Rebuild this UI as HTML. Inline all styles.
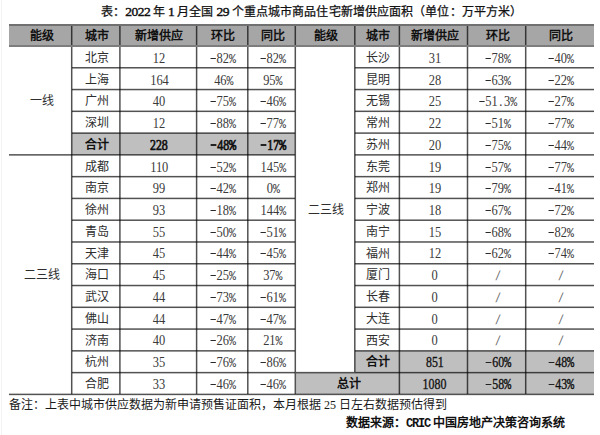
<!DOCTYPE html>
<html lang="zh-CN"><head><meta charset="utf-8">
<style>
html,body{margin:0;padding:0;background:#fff;}
body{width:600px;height:435px;position:relative;overflow:hidden;font-family:"Liberation Sans",sans-serif;color:#111;}
div,span{position:absolute;box-sizing:border-box;}
span{display:flex;align-items:center;justify-content:center;white-space:nowrap;font-size:12px;line-height:12px;}
.c{font-weight:normal;color:#2e2e2e;}
.h{font-weight:bold;color:#111;}
.hb{font-weight:bold;color:#111;}
.n{font-family:"Liberation Serif",serif;font-size:14px;color:#3a3a3a;}
.nn{font-weight:normal;display:inline-block;transform:scaleX(0.89);white-space:nowrap;}
.m{font-style:normal;font-family:"Liberation Mono",monospace;font-size:13px;letter-spacing:-1px;}
.nb{font-family:"Liberation Serif",serif;font-weight:normal;font-size:14.5px;color:#111;-webkit-text-stroke:0.35px #111;}
.nbb{font-weight:normal;display:inline-block;transform:scaleX(0.82);white-space:nowrap;}
.d{display:inline-block;width:6px;height:1px;background:#2a2a2a;vertical-align:4px;margin-right:0.8px;}
.nb .d{height:1px;width:6.5px;vertical-align:4px;margin-right:1.5px;background:#222;}
.sl{font-style:normal;font-family:"Liberation Sans",sans-serif;font-size:13px;color:#666;display:inline-block;transform:skewX(-12deg);}
.nbx{-webkit-text-stroke:0.7px #111;}
.nbx .d{height:2px;}
.dot{font-style:normal;display:inline-block;width:7px;text-align:center;}
.nb .m{font-size:14.5px;letter-spacing:-1.8px;}
.t{position:absolute;white-space:nowrap;font-size:12px;line-height:12px;}
.tn{position:static;display:inline;font-weight:normal;font-size:13.5px;letter-spacing:-0.5px;color:#111;-webkit-text-stroke:0.45px #111;font-family:"Liberation Serif",serif;}
</style></head><body>
<p class="t" style="margin:0;left:101px;top:5.5px;letter-spacing:0.1px;font-family:'Liberation Serif',serif;font-weight:normal;-webkit-text-stroke:0.25px #111;color:#111;">表：<span class="tn">2022 </span>年<span class="tn"> 1 </span>月全国<span class="tn"> 29 </span>个重点城市商品住宅新增供应面积（单位：万平方米）</p>
<div style="left:1px;top:0px;width:1px;height:435px;background:#f3f3f3;"></div>
<div style="left:9px;top:26px;width:585px;height:19px;background:#a6a6a6;"></div>
<div style="left:72px;top:133px;width:223px;height:22px;background:#bfbfbf;"></div>
<div style="left:355px;top:351px;width:239px;height:22px;background:#bfbfbf;"></div>
<div style="left:296px;top:373px;width:298px;height:21px;background:#bfbfbf;"></div>
<div style="left:9px;top:24px;width:585px;height:2px;background:#707070;"></div>
<div style="left:9px;top:45px;width:585px;height:1px;background:rgba(0,0,0,0.510);"></div>
<div style="left:9px;top:46px;width:585px;height:1px;background:rgba(0,0,0,0.510);"></div>
<div style="left:9px;top:393px;width:585px;height:1px;background:rgba(0,0,0,0.238);"></div>
<div style="left:9px;top:394px;width:585px;height:1px;background:rgba(0,0,0,0.680);"></div>
<div style="left:9px;top:395px;width:585px;height:1px;background:rgba(0,0,0,0.102);"></div>
<div style="left:70px;top:26px;width:1px;height:19px;background:rgba(0,0,0,0.034);"></div>
<div style="left:71px;top:26px;width:1px;height:19px;background:rgba(0,0,0,0.680);"></div>
<div style="left:72px;top:26px;width:1px;height:19px;background:rgba(0,0,0,0.306);"></div>
<div style="left:119px;top:26px;width:1px;height:19px;background:rgba(0,0,0,0.578);"></div>
<div style="left:120px;top:26px;width:1px;height:19px;background:rgba(0,0,0,0.442);"></div>
<div style="left:195px;top:26px;width:1px;height:19px;background:rgba(0,0,0,0.102);"></div>
<div style="left:196px;top:26px;width:1px;height:19px;background:rgba(0,0,0,0.680);"></div>
<div style="left:197px;top:26px;width:1px;height:19px;background:rgba(0,0,0,0.238);"></div>
<div style="left:247px;top:26px;width:1px;height:19px;background:rgba(0,0,0,0.646);"></div>
<div style="left:248px;top:26px;width:1px;height:19px;background:rgba(0,0,0,0.374);"></div>
<div style="left:294px;top:26px;width:1px;height:19px;background:rgba(0,0,0,0.306);"></div>
<div style="left:295px;top:26px;width:1px;height:19px;background:rgba(0,0,0,0.680);"></div>
<div style="left:296px;top:26px;width:1px;height:19px;background:rgba(0,0,0,0.034);"></div>
<div style="left:354px;top:26px;width:1px;height:19px;background:rgba(0,0,0,0.646);"></div>
<div style="left:355px;top:26px;width:1px;height:19px;background:rgba(0,0,0,0.374);"></div>
<div style="left:398px;top:26px;width:1px;height:19px;background:rgba(0,0,0,0.238);"></div>
<div style="left:399px;top:26px;width:1px;height:19px;background:rgba(0,0,0,0.680);"></div>
<div style="left:400px;top:26px;width:1px;height:19px;background:rgba(0,0,0,0.102);"></div>
<div style="left:466px;top:26px;width:1px;height:19px;background:rgba(0,0,0,0.170);"></div>
<div style="left:467px;top:26px;width:1px;height:19px;background:rgba(0,0,0,0.680);"></div>
<div style="left:468px;top:26px;width:1px;height:19px;background:rgba(0,0,0,0.170);"></div>
<div style="left:524px;top:26px;width:1px;height:19px;background:rgba(0,0,0,0.034);"></div>
<div style="left:525px;top:26px;width:1px;height:19px;background:rgba(0,0,0,0.680);"></div>
<div style="left:526px;top:26px;width:1px;height:19px;background:rgba(0,0,0,0.306);"></div>
<div style="left:70px;top:47px;width:1px;height:347px;background:rgba(0,0,0,0.034);"></div>
<div style="left:71px;top:47px;width:1px;height:347px;background:rgba(0,0,0,0.680);"></div>
<div style="left:72px;top:47px;width:1px;height:347px;background:rgba(0,0,0,0.306);"></div>
<div style="left:119px;top:47px;width:1px;height:347px;background:rgba(0,0,0,0.578);"></div>
<div style="left:120px;top:47px;width:1px;height:347px;background:rgba(0,0,0,0.442);"></div>
<div style="left:195px;top:47px;width:1px;height:347px;background:rgba(0,0,0,0.102);"></div>
<div style="left:196px;top:47px;width:1px;height:347px;background:rgba(0,0,0,0.680);"></div>
<div style="left:197px;top:47px;width:1px;height:347px;background:rgba(0,0,0,0.238);"></div>
<div style="left:247px;top:47px;width:1px;height:347px;background:rgba(0,0,0,0.646);"></div>
<div style="left:248px;top:47px;width:1px;height:347px;background:rgba(0,0,0,0.374);"></div>
<div style="left:294px;top:47px;width:1px;height:347px;background:rgba(0,0,0,0.306);"></div>
<div style="left:295px;top:47px;width:1px;height:347px;background:rgba(0,0,0,0.680);"></div>
<div style="left:296px;top:47px;width:1px;height:347px;background:rgba(0,0,0,0.034);"></div>
<div style="left:354px;top:47px;width:1px;height:325px;background:rgba(0,0,0,0.646);"></div>
<div style="left:355px;top:47px;width:1px;height:325px;background:rgba(0,0,0,0.374);"></div>
<div style="left:398px;top:47px;width:1px;height:347px;background:rgba(0,0,0,0.238);"></div>
<div style="left:399px;top:47px;width:1px;height:347px;background:rgba(0,0,0,0.680);"></div>
<div style="left:400px;top:47px;width:1px;height:347px;background:rgba(0,0,0,0.102);"></div>
<div style="left:466px;top:47px;width:1px;height:347px;background:rgba(0,0,0,0.170);"></div>
<div style="left:467px;top:47px;width:1px;height:347px;background:rgba(0,0,0,0.680);"></div>
<div style="left:468px;top:47px;width:1px;height:347px;background:rgba(0,0,0,0.170);"></div>
<div style="left:524px;top:47px;width:1px;height:347px;background:rgba(0,0,0,0.034);"></div>
<div style="left:525px;top:47px;width:1px;height:347px;background:rgba(0,0,0,0.680);"></div>
<div style="left:526px;top:47px;width:1px;height:347px;background:rgba(0,0,0,0.306);"></div>
<div style="left:72px;top:67px;width:223px;height:1px;background:rgba(0,0,0,0.663);"></div>
<div style="left:72px;top:68px;width:223px;height:1px;background:rgba(0,0,0,0.357);"></div>
<div style="left:72px;top:88px;width:223px;height:1px;background:rgba(0,0,0,0.136);"></div>
<div style="left:72px;top:89px;width:223px;height:1px;background:rgba(0,0,0,0.680);"></div>
<div style="left:72px;top:90px;width:223px;height:1px;background:rgba(0,0,0,0.204);"></div>
<div style="left:72px;top:110px;width:223px;height:1px;background:rgba(0,0,0,0.289);"></div>
<div style="left:72px;top:111px;width:223px;height:1px;background:rgba(0,0,0,0.680);"></div>
<div style="left:72px;top:112px;width:223px;height:1px;background:rgba(0,0,0,0.051);"></div>
<div style="left:72px;top:132px;width:223px;height:1px;background:rgba(0,0,0,0.442);"></div>
<div style="left:72px;top:133px;width:223px;height:1px;background:rgba(0,0,0,0.578);"></div>
<div style="left:9px;top:154px;width:286px;height:1px;background:rgba(0,0,0,0.595);"></div>
<div style="left:9px;top:155px;width:286px;height:1px;background:rgba(0,0,0,0.425);"></div>
<div style="left:72px;top:175px;width:223px;height:1px;background:rgba(0,0,0,0.068);"></div>
<div style="left:72px;top:176px;width:223px;height:1px;background:rgba(0,0,0,0.680);"></div>
<div style="left:72px;top:177px;width:223px;height:1px;background:rgba(0,0,0,0.272);"></div>
<div style="left:72px;top:197px;width:223px;height:1px;background:rgba(0,0,0,0.221);"></div>
<div style="left:72px;top:198px;width:223px;height:1px;background:rgba(0,0,0,0.680);"></div>
<div style="left:72px;top:199px;width:223px;height:1px;background:rgba(0,0,0,0.119);"></div>
<div style="left:72px;top:219px;width:223px;height:1px;background:rgba(0,0,0,0.374);"></div>
<div style="left:72px;top:220px;width:223px;height:1px;background:rgba(0,0,0,0.646);"></div>
<div style="left:72px;top:241px;width:223px;height:1px;background:rgba(0,0,0,0.527);"></div>
<div style="left:72px;top:242px;width:223px;height:1px;background:rgba(0,0,0,0.493);"></div>
<div style="left:72px;top:263px;width:223px;height:1px;background:rgba(0,0,0,0.680);"></div>
<div style="left:72px;top:264px;width:223px;height:1px;background:rgba(0,0,0,0.340);"></div>
<div style="left:72px;top:284px;width:223px;height:1px;background:rgba(0,0,0,0.153);"></div>
<div style="left:72px;top:285px;width:223px;height:1px;background:rgba(0,0,0,0.680);"></div>
<div style="left:72px;top:286px;width:223px;height:1px;background:rgba(0,0,0,0.187);"></div>
<div style="left:72px;top:306px;width:223px;height:1px;background:rgba(0,0,0,0.306);"></div>
<div style="left:72px;top:307px;width:223px;height:1px;background:rgba(0,0,0,0.680);"></div>
<div style="left:72px;top:308px;width:223px;height:1px;background:rgba(0,0,0,0.034);"></div>
<div style="left:72px;top:328px;width:223px;height:1px;background:rgba(0,0,0,0.459);"></div>
<div style="left:72px;top:329px;width:223px;height:1px;background:rgba(0,0,0,0.561);"></div>
<div style="left:72px;top:350px;width:223px;height:1px;background:rgba(0,0,0,0.612);"></div>
<div style="left:72px;top:351px;width:223px;height:1px;background:rgba(0,0,0,0.408);"></div>
<div style="left:72px;top:371px;width:223px;height:1px;background:rgba(0,0,0,0.085);"></div>
<div style="left:72px;top:372px;width:223px;height:1px;background:rgba(0,0,0,0.680);"></div>
<div style="left:72px;top:373px;width:223px;height:1px;background:rgba(0,0,0,0.255);"></div>
<div style="left:355px;top:67px;width:239px;height:1px;background:rgba(0,0,0,0.663);"></div>
<div style="left:355px;top:68px;width:239px;height:1px;background:rgba(0,0,0,0.357);"></div>
<div style="left:355px;top:88px;width:239px;height:1px;background:rgba(0,0,0,0.136);"></div>
<div style="left:355px;top:89px;width:239px;height:1px;background:rgba(0,0,0,0.680);"></div>
<div style="left:355px;top:90px;width:239px;height:1px;background:rgba(0,0,0,0.204);"></div>
<div style="left:355px;top:110px;width:239px;height:1px;background:rgba(0,0,0,0.289);"></div>
<div style="left:355px;top:111px;width:239px;height:1px;background:rgba(0,0,0,0.680);"></div>
<div style="left:355px;top:112px;width:239px;height:1px;background:rgba(0,0,0,0.051);"></div>
<div style="left:355px;top:132px;width:239px;height:1px;background:rgba(0,0,0,0.442);"></div>
<div style="left:355px;top:133px;width:239px;height:1px;background:rgba(0,0,0,0.578);"></div>
<div style="left:355px;top:154px;width:239px;height:1px;background:rgba(0,0,0,0.595);"></div>
<div style="left:355px;top:155px;width:239px;height:1px;background:rgba(0,0,0,0.425);"></div>
<div style="left:355px;top:175px;width:239px;height:1px;background:rgba(0,0,0,0.068);"></div>
<div style="left:355px;top:176px;width:239px;height:1px;background:rgba(0,0,0,0.680);"></div>
<div style="left:355px;top:177px;width:239px;height:1px;background:rgba(0,0,0,0.272);"></div>
<div style="left:355px;top:197px;width:239px;height:1px;background:rgba(0,0,0,0.221);"></div>
<div style="left:355px;top:198px;width:239px;height:1px;background:rgba(0,0,0,0.680);"></div>
<div style="left:355px;top:199px;width:239px;height:1px;background:rgba(0,0,0,0.119);"></div>
<div style="left:355px;top:219px;width:239px;height:1px;background:rgba(0,0,0,0.374);"></div>
<div style="left:355px;top:220px;width:239px;height:1px;background:rgba(0,0,0,0.646);"></div>
<div style="left:355px;top:241px;width:239px;height:1px;background:rgba(0,0,0,0.527);"></div>
<div style="left:355px;top:242px;width:239px;height:1px;background:rgba(0,0,0,0.493);"></div>
<div style="left:355px;top:263px;width:239px;height:1px;background:rgba(0,0,0,0.680);"></div>
<div style="left:355px;top:264px;width:239px;height:1px;background:rgba(0,0,0,0.340);"></div>
<div style="left:355px;top:284px;width:239px;height:1px;background:rgba(0,0,0,0.153);"></div>
<div style="left:355px;top:285px;width:239px;height:1px;background:rgba(0,0,0,0.680);"></div>
<div style="left:355px;top:286px;width:239px;height:1px;background:rgba(0,0,0,0.187);"></div>
<div style="left:355px;top:306px;width:239px;height:1px;background:rgba(0,0,0,0.306);"></div>
<div style="left:355px;top:307px;width:239px;height:1px;background:rgba(0,0,0,0.680);"></div>
<div style="left:355px;top:308px;width:239px;height:1px;background:rgba(0,0,0,0.034);"></div>
<div style="left:355px;top:328px;width:239px;height:1px;background:rgba(0,0,0,0.459);"></div>
<div style="left:355px;top:329px;width:239px;height:1px;background:rgba(0,0,0,0.561);"></div>
<div style="left:355px;top:350px;width:239px;height:1px;background:rgba(0,0,0,0.612);"></div>
<div style="left:355px;top:351px;width:239px;height:1px;background:rgba(0,0,0,0.408);"></div>
<div style="left:296px;top:371px;width:298px;height:1px;background:rgba(0,0,0,0.085);"></div>
<div style="left:296px;top:372px;width:298px;height:1px;background:rgba(0,0,0,0.680);"></div>
<div style="left:296px;top:373px;width:298px;height:1px;background:rgba(0,0,0,0.255);"></div>
<span class="h" style="left:10.5px;top:25px;width:62px;height:22px">能级</span>
<span class="h" style="left:72.5px;top:25px;width:48px;height:22px">城市</span>
<span class="h" style="left:120.5px;top:25px;width:77px;height:22px">新增供应</span>
<span class="h" style="left:197.5px;top:25px;width:51px;height:22px">环比</span>
<span class="h" style="left:248.5px;top:25px;width:48px;height:22px">同比</span>
<span class="h" style="left:296.5px;top:25px;width:59px;height:22px">能级</span>
<span class="h" style="left:355.5px;top:25px;width:45px;height:22px">城市</span>
<span class="h" style="left:400.5px;top:25px;width:68px;height:22px">新增供应</span>
<span class="h" style="left:468.5px;top:25px;width:58px;height:22px">环比</span>
<span class="h" style="left:526.5px;top:25px;width:69px;height:22px">同比</span>
<span class="c" style="left:72.5px;top:47px;width:48px;height:22px">北京</span>
<span class="n" style="left:120.5px;top:48px;width:77px;height:22px"><b class="nn">12</b></span>
<span class="n" style="left:197.5px;top:48px;width:51px;height:22px"><b class="nn"><i class="d"></i>82<i class="m">%</i></b></span>
<span class="n" style="left:248.5px;top:48px;width:48px;height:22px"><b class="nn"><i class="d"></i>82<i class="m">%</i></b></span>
<span class="c" style="left:72.5px;top:69px;width:48px;height:22px">上海</span>
<span class="n" style="left:120.5px;top:70px;width:77px;height:22px"><b class="nn">164</b></span>
<span class="n" style="left:197.5px;top:70px;width:51px;height:22px"><b class="nn">46<i class="m">%</i></b></span>
<span class="n" style="left:248.5px;top:70px;width:48px;height:22px"><b class="nn">95<i class="m">%</i></b></span>
<span class="c" style="left:72.5px;top:90px;width:48px;height:22px">广州</span>
<span class="n" style="left:120.5px;top:91px;width:77px;height:22px"><b class="nn">40</b></span>
<span class="n" style="left:197.5px;top:91px;width:51px;height:22px"><b class="nn"><i class="d"></i>75<i class="m">%</i></b></span>
<span class="n" style="left:248.5px;top:91px;width:48px;height:22px"><b class="nn"><i class="d"></i>46<i class="m">%</i></b></span>
<span class="c" style="left:72.5px;top:112px;width:48px;height:22px">深圳</span>
<span class="n" style="left:120.5px;top:113px;width:77px;height:22px"><b class="nn">12</b></span>
<span class="n" style="left:197.5px;top:113px;width:51px;height:22px"><b class="nn"><i class="d"></i>88<i class="m">%</i></b></span>
<span class="n" style="left:248.5px;top:113px;width:48px;height:22px"><b class="nn"><i class="d"></i>77<i class="m">%</i></b></span>
<span class="hb" style="left:72.5px;top:134px;width:48px;height:22px">合计</span>
<span class="nb nbx" style="left:120.5px;top:134px;width:77px;height:22px"><b class="nbb">228</b></span>
<span class="nb nbx" style="left:197.5px;top:134px;width:51px;height:22px"><b class="nbb"><i class="d"></i>48<i class="m">%</i></b></span>
<span class="nb nbx" style="left:248.5px;top:134px;width:48px;height:22px"><b class="nbb"><i class="d"></i>17<i class="m">%</i></b></span>
<span class="c" style="left:72.5px;top:156px;width:48px;height:22px">成都</span>
<span class="n" style="left:120.5px;top:157px;width:77px;height:22px"><b class="nn">110</b></span>
<span class="n" style="left:197.5px;top:157px;width:51px;height:22px"><b class="nn"><i class="d"></i>52<i class="m">%</i></b></span>
<span class="n" style="left:248.5px;top:157px;width:48px;height:22px"><b class="nn">145<i class="m">%</i></b></span>
<span class="c" style="left:72.5px;top:177px;width:48px;height:22px">南京</span>
<span class="n" style="left:120.5px;top:178px;width:77px;height:22px"><b class="nn">99</b></span>
<span class="n" style="left:197.5px;top:178px;width:51px;height:22px"><b class="nn"><i class="d"></i>42<i class="m">%</i></b></span>
<span class="n" style="left:248.5px;top:178px;width:48px;height:22px"><b class="nn">0<i class="m">%</i></b></span>
<span class="c" style="left:72.5px;top:199px;width:48px;height:22px">徐州</span>
<span class="n" style="left:120.5px;top:200px;width:77px;height:22px"><b class="nn">93</b></span>
<span class="n" style="left:197.5px;top:200px;width:51px;height:22px"><b class="nn"><i class="d"></i>18<i class="m">%</i></b></span>
<span class="n" style="left:248.5px;top:200px;width:48px;height:22px"><b class="nn">144<i class="m">%</i></b></span>
<span class="c" style="left:72.5px;top:221px;width:48px;height:22px">青岛</span>
<span class="n" style="left:120.5px;top:222px;width:77px;height:22px"><b class="nn">55</b></span>
<span class="n" style="left:197.5px;top:222px;width:51px;height:22px"><b class="nn"><i class="d"></i>50<i class="m">%</i></b></span>
<span class="n" style="left:248.5px;top:222px;width:48px;height:22px"><b class="nn"><i class="d"></i>51<i class="m">%</i></b></span>
<span class="c" style="left:72.5px;top:243px;width:48px;height:22px">天津</span>
<span class="n" style="left:120.5px;top:243px;width:77px;height:22px"><b class="nn">45</b></span>
<span class="n" style="left:197.5px;top:243px;width:51px;height:22px"><b class="nn"><i class="d"></i>44<i class="m">%</i></b></span>
<span class="n" style="left:248.5px;top:243px;width:48px;height:22px"><b class="nn"><i class="d"></i>45<i class="m">%</i></b></span>
<span class="c" style="left:72.5px;top:264px;width:48px;height:22px">海口</span>
<span class="n" style="left:120.5px;top:265px;width:77px;height:22px"><b class="nn">45</b></span>
<span class="n" style="left:197.5px;top:265px;width:51px;height:22px"><b class="nn"><i class="d"></i>25<i class="m">%</i></b></span>
<span class="n" style="left:248.5px;top:265px;width:48px;height:22px"><b class="nn">37<i class="m">%</i></b></span>
<span class="c" style="left:72.5px;top:286px;width:48px;height:22px">武汉</span>
<span class="n" style="left:120.5px;top:287px;width:77px;height:22px"><b class="nn">44</b></span>
<span class="n" style="left:197.5px;top:287px;width:51px;height:22px"><b class="nn"><i class="d"></i>73<i class="m">%</i></b></span>
<span class="n" style="left:248.5px;top:287px;width:48px;height:22px"><b class="nn"><i class="d"></i>61<i class="m">%</i></b></span>
<span class="c" style="left:72.5px;top:308px;width:48px;height:22px">佛山</span>
<span class="n" style="left:120.5px;top:309px;width:77px;height:22px"><b class="nn">44</b></span>
<span class="n" style="left:197.5px;top:309px;width:51px;height:22px"><b class="nn"><i class="d"></i>47<i class="m">%</i></b></span>
<span class="n" style="left:248.5px;top:309px;width:48px;height:22px"><b class="nn"><i class="d"></i>47<i class="m">%</i></b></span>
<span class="c" style="left:72.5px;top:330px;width:48px;height:22px">济南</span>
<span class="n" style="left:120.5px;top:330px;width:77px;height:22px"><b class="nn">40</b></span>
<span class="n" style="left:197.5px;top:330px;width:51px;height:22px"><b class="nn"><i class="d"></i>26<i class="m">%</i></b></span>
<span class="n" style="left:248.5px;top:330px;width:48px;height:22px"><b class="nn">21<i class="m">%</i></b></span>
<span class="c" style="left:72.5px;top:351px;width:48px;height:22px">杭州</span>
<span class="n" style="left:120.5px;top:352px;width:77px;height:22px"><b class="nn">35</b></span>
<span class="n" style="left:197.5px;top:352px;width:51px;height:22px"><b class="nn"><i class="d"></i>76<i class="m">%</i></b></span>
<span class="n" style="left:248.5px;top:352px;width:48px;height:22px"><b class="nn"><i class="d"></i>86<i class="m">%</i></b></span>
<span class="c" style="left:72.5px;top:373px;width:48px;height:22px">合肥</span>
<span class="n" style="left:120.5px;top:374px;width:77px;height:22px"><b class="nn">33</b></span>
<span class="n" style="left:197.5px;top:374px;width:51px;height:22px"><b class="nn"><i class="d"></i>46<i class="m">%</i></b></span>
<span class="n" style="left:248.5px;top:374px;width:48px;height:22px"><b class="nn"><i class="d"></i>46<i class="m">%</i></b></span>
<span class="c" style="left:355.5px;top:47px;width:45px;height:22px">长沙</span>
<span class="n" style="left:400.5px;top:48px;width:68px;height:22px"><b class="nn">31</b></span>
<span class="n" style="left:468.5px;top:48px;width:58px;height:22px"><b class="nn"><i class="d"></i>78<i class="m">%</i></b></span>
<span class="n" style="left:526.5px;top:48px;width:69px;height:22px"><b class="nn"><i class="d"></i>40<i class="m">%</i></b></span>
<span class="c" style="left:355.5px;top:69px;width:45px;height:22px">昆明</span>
<span class="n" style="left:400.5px;top:70px;width:68px;height:22px"><b class="nn">28</b></span>
<span class="n" style="left:468.5px;top:70px;width:58px;height:22px"><b class="nn"><i class="d"></i>63<i class="m">%</i></b></span>
<span class="n" style="left:526.5px;top:70px;width:69px;height:22px"><b class="nn"><i class="d"></i>22<i class="m">%</i></b></span>
<span class="c" style="left:355.5px;top:90px;width:45px;height:22px">无锡</span>
<span class="n" style="left:400.5px;top:91px;width:68px;height:22px"><b class="nn">25</b></span>
<span class="n" style="left:468.5px;top:91px;width:58px;height:22px"><b class="nn"><i class="d"></i>51<i class="dot">.</i>3<i class="m">%</i></b></span>
<span class="n" style="left:526.5px;top:91px;width:69px;height:22px"><b class="nn"><i class="d"></i>27<i class="m">%</i></b></span>
<span class="c" style="left:355.5px;top:112px;width:45px;height:22px">常州</span>
<span class="n" style="left:400.5px;top:113px;width:68px;height:22px"><b class="nn">22</b></span>
<span class="n" style="left:468.5px;top:113px;width:58px;height:22px"><b class="nn"><i class="d"></i>51<i class="m">%</i></b></span>
<span class="n" style="left:526.5px;top:113px;width:69px;height:22px"><b class="nn"><i class="d"></i>77<i class="m">%</i></b></span>
<span class="c" style="left:355.5px;top:134px;width:45px;height:22px">苏州</span>
<span class="n" style="left:400.5px;top:135px;width:68px;height:22px"><b class="nn">20</b></span>
<span class="n" style="left:468.5px;top:135px;width:58px;height:22px"><b class="nn"><i class="d"></i>75<i class="m">%</i></b></span>
<span class="n" style="left:526.5px;top:135px;width:69px;height:22px"><b class="nn"><i class="d"></i>44<i class="m">%</i></b></span>
<span class="c" style="left:355.5px;top:156px;width:45px;height:22px">东莞</span>
<span class="n" style="left:400.5px;top:157px;width:68px;height:22px"><b class="nn">19</b></span>
<span class="n" style="left:468.5px;top:157px;width:58px;height:22px"><b class="nn"><i class="d"></i>57<i class="m">%</i></b></span>
<span class="n" style="left:526.5px;top:157px;width:69px;height:22px"><b class="nn"><i class="d"></i>77<i class="m">%</i></b></span>
<span class="c" style="left:355.5px;top:177px;width:45px;height:22px">郑州</span>
<span class="n" style="left:400.5px;top:178px;width:68px;height:22px"><b class="nn">19</b></span>
<span class="n" style="left:468.5px;top:178px;width:58px;height:22px"><b class="nn"><i class="d"></i>79<i class="m">%</i></b></span>
<span class="n" style="left:526.5px;top:178px;width:69px;height:22px"><b class="nn"><i class="d"></i>41<i class="m">%</i></b></span>
<span class="c" style="left:355.5px;top:199px;width:45px;height:22px">宁波</span>
<span class="n" style="left:400.5px;top:200px;width:68px;height:22px"><b class="nn">18</b></span>
<span class="n" style="left:468.5px;top:200px;width:58px;height:22px"><b class="nn"><i class="d"></i>67<i class="m">%</i></b></span>
<span class="n" style="left:526.5px;top:200px;width:69px;height:22px"><b class="nn"><i class="d"></i>72<i class="m">%</i></b></span>
<span class="c" style="left:355.5px;top:221px;width:45px;height:22px">南宁</span>
<span class="n" style="left:400.5px;top:222px;width:68px;height:22px"><b class="nn">15</b></span>
<span class="n" style="left:468.5px;top:222px;width:58px;height:22px"><b class="nn"><i class="d"></i>68<i class="m">%</i></b></span>
<span class="n" style="left:526.5px;top:222px;width:69px;height:22px"><b class="nn"><i class="d"></i>82<i class="m">%</i></b></span>
<span class="c" style="left:355.5px;top:243px;width:45px;height:22px">福州</span>
<span class="n" style="left:400.5px;top:243px;width:68px;height:22px"><b class="nn">12</b></span>
<span class="n" style="left:468.5px;top:243px;width:58px;height:22px"><b class="nn"><i class="d"></i>62<i class="m">%</i></b></span>
<span class="n" style="left:526.5px;top:243px;width:69px;height:22px"><b class="nn"><i class="d"></i>74<i class="m">%</i></b></span>
<span class="c" style="left:355.5px;top:264px;width:45px;height:22px">厦门</span>
<span class="n" style="left:400.5px;top:265px;width:68px;height:22px"><b class="nn">0</b></span>
<span class="n" style="left:468.5px;top:265px;width:58px;height:22px"><b class="nn"><i class="sl">/</i></b></span>
<span class="n" style="left:526.5px;top:265px;width:69px;height:22px"><b class="nn"><i class="sl">/</i></b></span>
<span class="c" style="left:355.5px;top:286px;width:45px;height:22px">长春</span>
<span class="n" style="left:400.5px;top:287px;width:68px;height:22px"><b class="nn">0</b></span>
<span class="n" style="left:468.5px;top:287px;width:58px;height:22px"><b class="nn"><i class="sl">/</i></b></span>
<span class="n" style="left:526.5px;top:287px;width:69px;height:22px"><b class="nn"><i class="sl">/</i></b></span>
<span class="c" style="left:355.5px;top:308px;width:45px;height:22px">大连</span>
<span class="n" style="left:400.5px;top:309px;width:68px;height:22px"><b class="nn">0</b></span>
<span class="n" style="left:468.5px;top:309px;width:58px;height:22px"><b class="nn"><i class="sl">/</i></b></span>
<span class="n" style="left:526.5px;top:309px;width:69px;height:22px"><b class="nn"><i class="sl">/</i></b></span>
<span class="c" style="left:355.5px;top:330px;width:45px;height:22px">西安</span>
<span class="n" style="left:400.5px;top:330px;width:68px;height:22px"><b class="nn">0</b></span>
<span class="n" style="left:468.5px;top:330px;width:58px;height:22px"><b class="nn"><i class="sl">/</i></b></span>
<span class="n" style="left:526.5px;top:330px;width:69px;height:22px"><b class="nn"><i class="sl">/</i></b></span>
<span class="hb" style="left:355.5px;top:351px;width:45px;height:22px">合计</span>
<span class="nb" style="left:400.5px;top:351px;width:68px;height:22px"><b class="nbb">851</b></span>
<span class="nb" style="left:468.5px;top:351px;width:58px;height:22px"><b class="nbb"><i class="d"></i>60<i class="m">%</i></b></span>
<span class="nb" style="left:526.5px;top:351px;width:69px;height:22px"><b class="nbb"><i class="d"></i>48<i class="m">%</i></b></span>
<span class="hb" style="left:296.5px;top:373px;width:104px;height:22px">总计</span>
<span class="nb" style="left:400.5px;top:373px;width:68px;height:22px"><b class="nbb">1080</b></span>
<span class="nb" style="left:468.5px;top:373px;width:58px;height:22px"><b class="nbb"><i class="d"></i>58<i class="m">%</i></b></span>
<span class="nb" style="left:526.5px;top:373px;width:69px;height:22px"><b class="nbb"><i class="d"></i>43<i class="m">%</i></b></span>
<span class="c" style="left:10.5px;top:47.00px;width:62px;height:108.88px">一线</span>
<span class="c" style="left:10.5px;top:154.88px;width:62px;height:239.92px">二三线</span>
<span class="c" style="left:296.5px;top:47.00px;width:59px;height:326.62px">二三线</span>
<p class="t" style="margin:0;left:9px;top:398.5px;color:#1a1a1a;">备注：上表中城市供应数据为新申请预售证面积，本月根据<span style="position:static;display:inline;font-family:'Liberation Serif',serif;"> 25 </span>日左右数据预估得到</p>
<p class="t" style="margin:0;left:346px;top:417px;font-weight:bold;color:#111;">数据来源：<span style="position:static;display:inline;font-family:'Liberation Mono',monospace;letter-spacing:-1.2px;">CRIC</span> 中国房地产决策咨询系统</p>
</body></html>
